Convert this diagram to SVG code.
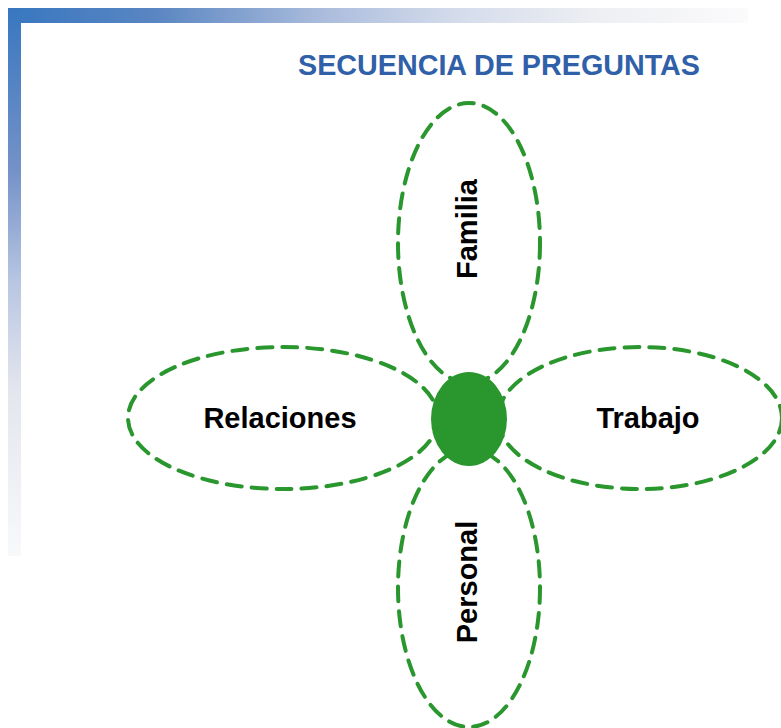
<svg xmlns="http://www.w3.org/2000/svg" width="781" height="728" viewBox="0 0 781 728">
<defs>
<linearGradient id="gTop" x1="0" y1="0" x2="1" y2="0">
<stop offset="0" stop-color="#3877c0"/>
<stop offset="0.2" stop-color="#5a86c2"/>
<stop offset="0.42" stop-color="#a9bbdc"/>
<stop offset="0.6" stop-color="#d3dbeb"/>
<stop offset="0.8" stop-color="#eeeff3"/>
<stop offset="1" stop-color="#fbfbfc"/>
</linearGradient>
<linearGradient id="gLeft" x1="0" y1="0" x2="0" y2="1">
<stop offset="0" stop-color="#3877c0"/>
<stop offset="0.3" stop-color="#7592c8"/>
<stop offset="0.5" stop-color="#b8c6e2"/>
<stop offset="0.7" stop-color="#e4e6ee"/>
<stop offset="1" stop-color="#f8f9fb"/>
</linearGradient>
<style>
.petal{fill:none;stroke:#2a962e;stroke-width:4;stroke-dasharray:15 10;stroke-linecap:round}
.lbl{font-family:"Liberation Sans",Arial,sans-serif;font-weight:bold;font-size:29px;fill:#000;text-anchor:middle}
.title{font-family:"Liberation Sans",Arial,sans-serif;font-weight:bold;font-size:29px;fill:#3060a8}
</style>
</defs>
<rect width="781" height="728" fill="#fff"/>
<rect x="8" y="8" width="740" height="15" fill="url(#gTop)"/>
<rect x="8" y="8" width="13" height="548" fill="url(#gLeft)"/>
<text class="title" x="298" y="75" textLength="402" lengthAdjust="spacingAndGlyphs">SECUENCIA DE PREGUNTAS</text>
<g id="connectors"></g>
<g id="familia">
<ellipse class="petal" cx="469" cy="243" rx="71" ry="140"/>
<text class="lbl" transform="translate(477,229) rotate(-90)">Familia</text>
</g>
<g id="personal">
<ellipse class="petal" cx="469" cy="588" rx="71" ry="139"/>
<text class="lbl" transform="translate(477,582) rotate(-90)">Personal</text>
</g>
<g id="relaciones">
<ellipse class="petal" cx="283" cy="418" rx="155" ry="71"/>
<text class="lbl" x="280" y="428">Relaciones</text>
</g>
<g id="trabajo">
<ellipse class="petal" cx="640" cy="418" rx="142" ry="71"/>
<text class="lbl" x="648" y="428">Trabajo</text>
</g>
<g id="center">
<ellipse cx="469" cy="419" rx="38" ry="47" fill="#2a962e"/>
</g>
</svg>
